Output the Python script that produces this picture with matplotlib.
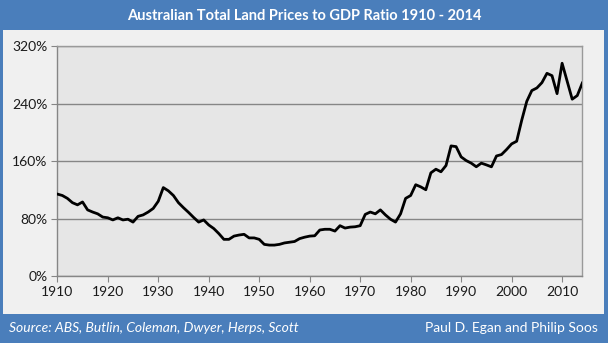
import matplotlib
matplotlib.use("Agg")
import matplotlib.pyplot as plt
from matplotlib.patches import Rectangle
from matplotlib.ticker import FuncFormatter

years = list(range(1910, 2015))
ratio = [
    114, 112, 108, 102, 99, 103, 92, 89, 86.5, 82,          # 1910-1919
    81, 78, 81, 78, 79, 75, 83, 85, 89, 94,                 # 1920-1929
    104, 123, 118.5, 112, 102, 95, 88.5, 81.5, 75, 78,      # 1930-1939
    71, 66, 59, 51, 51, 55.5, 57, 58, 53, 53,               # 1940-1949
    51, 44, 43, 43, 44, 46, 47, 48, 52, 54,                 # 1950-1959
    55.5, 56, 64, 65, 65, 62.5, 70, 66.7, 68, 68.5,         # 1960-1969
    70, 85.7, 89, 86.5, 92, 85, 79, 75, 86.5, 108,          # 1970-1979
    112, 127, 124, 120, 143.5, 148.6, 145, 153.7, 181, 180, # 1980-1989
    165.7, 160.6, 157, 152, 157, 154.6, 151.9, 167, 169, 176,  # 1990-1999
    183.8, 187.5, 216.7, 243, 258, 261.6, 269, 282, 278.7, 253.7,  # 2000-2009
    296, 271, 246, 251, 268.5,                              # 2010-2014
]
y_ticks = [0, 80, 160, 240, 320]
x_ticks = list(range(1910, 2011, 10))

title = "Australian Total Land Prices to GDP Ratio 1910 - 2014"
source = "Source: ABS, Butlin, Coleman, Dwyer, Herps, Scott"
authors = "Paul D. Egan and Philip Soos"

W, H = 608, 343
BLUE = "#4A7EBB"
fig = plt.figure(figsize=(W / 100, H / 100), dpi=100)
fig.patch.set_facecolor(BLUE)

# light panel
fig.patches.append(Rectangle((3 / W, (H - 314) / H), (604 - 3) / W, (314 - 30) / H,
                             transform=fig.transFigure, facecolor="#F0F0F0",
                             edgecolor="none", zorder=-5))

ax = fig.add_axes([57.3 / W, (H - 276) / H, 525 / W, 230 / H])
ax.set_zorder(2)
ax.set_facecolor("#E6E6E6")
ax.plot(years, ratio, color="black", lw=2, solid_joinstyle="round", zorder=3)

ax.set_xlim(1910, 2014)
ax.set_ylim(0, 320)
ax.set_yticks(y_ticks)
ax.set_xticks(x_ticks)
ax.yaxis.set_major_formatter(FuncFormatter(lambda v, p: f"{int(v)}%"))
ax.grid(axis="y", color="#868686", lw=1)
ax.set_axisbelow(True)

for s in ["left", "bottom"]:
    ax.spines[s].set_color("#868686")
    ax.spines[s].set_linewidth(1)
for s in ["top", "right"]:
    ax.spines[s].set_color("#9A9A9A")
    ax.spines[s].set_linewidth(1)

tick_font = "Lato"
ax.tick_params(axis="both", direction="out", length=4, color="#868686",
               labelsize=10, labelcolor="#1A1A1A", pad=3)
for lab in ax.get_xticklabels() + ax.get_yticklabels():
    lab.set_fontfamily(tick_font)

fig.text(0.5, 1 - 16 / H, title, color="white", fontsize=10.5, fontweight="bold",
         family="Lato", ha="center", va="center")
fig.text(9 / W, 1 - 328 / H, source, color="white", fontsize=10, style="italic",
         family="Lato", ha="left", va="center")
fig.text(598 / W, 1 - 328 / H, authors, color="white", fontsize=10,
         family="Lato", ha="right", va="center")

fig.savefig("out.png", dpi=100, facecolor=fig.get_facecolor())
